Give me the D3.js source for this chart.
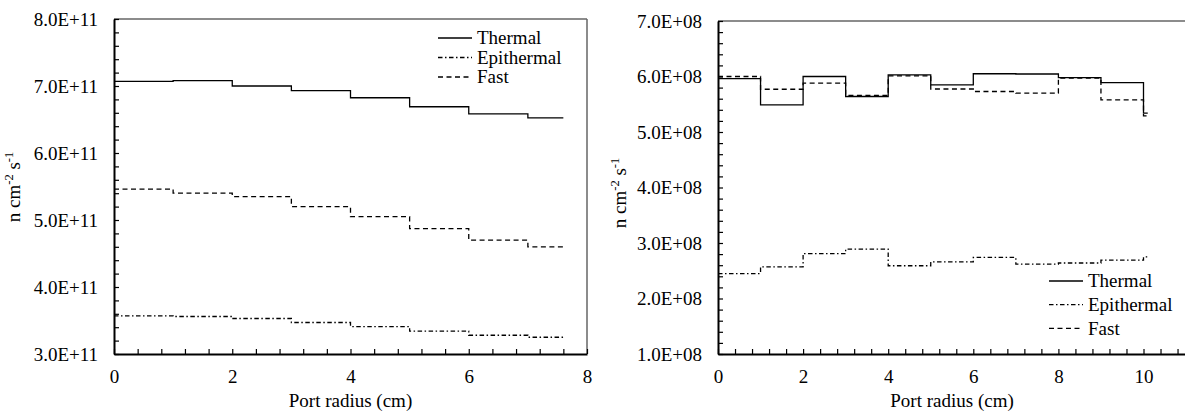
<!DOCTYPE html>
<html>
<head>
<meta charset="utf-8">
<script src="https://cdn.jsdelivr.net/npm/d3@7"></script>
<style>
  html, body { margin: 0; padding: 0; background: #fff; }
  svg { display: block; }
  text { font-family: "Liberation Serif", "Times New Roman", serif; fill: #000; }
</style>
</head>
<body>
<svg id="chart" width="1185" height="414"></svg>
<script>
// ---------- data ----------
const seriesNames = ["Thermal", "Epithermal", "Fast"];

// Left panel (step edges in cm; values per segment)
const leftRadius      = [0, 1, 2, 3, 4, 5, 6, 7, 7.6];
const leftThermal     = [7.07e11, 7.08e11, 7.00e11, 6.93e11, 6.825e11, 6.69e11, 6.585e11, 6.525e11];
const leftEpithermal  = [3.57e11, 3.56e11, 3.53e11, 3.47e11, 3.41e11, 3.34e11, 3.28e11, 3.25e11];
const leftFast        = [5.46e11, 5.40e11, 5.35e11, 5.20e11, 5.05e11, 4.87e11, 4.70e11, 4.60e11];
const leftYTicks      = [3e11, 4e11, 5e11, 6e11, 7e11, 8e11];
const leftXTicks      = [0, 2, 4, 6, 8];

// Right panel
const rightRadius     = [0, 1, 2, 3, 4, 5, 6, 7, 8, 9, 10, 10.1];
const rightThermal    = [5.96e8, 5.49e8, 6.00e8, 5.64e8, 6.03e8, 5.85e8, 6.05e8, 6.045e8, 5.98e8, 5.89e8, 5.34e8];
const rightEpithermal = [2.45e8, 2.57e8, 2.81e8, 2.89e8, 2.59e8, 2.66e8, 2.74e8, 2.62e8, 2.64e8, 2.69e8, 2.75e8];
const rightFast       = [6.00e8, 5.77e8, 5.88e8, 5.66e8, 6.01e8, 5.775e8, 5.73e8, 5.70e8, 5.97e8, 5.58e8, 5.29e8];
const rightYTicks     = [1e8, 2e8, 3e8, 4e8, 5e8, 6e8, 7e8];
const rightXTicks     = [0, 2, 4, 6, 8, 10];

const xTitle = "Port radius (cm)";

// ---------- styles ----------
const dashes = { Thermal: null, Epithermal: "4.5,2.5,1.5,2.5", Fast: "5,3.5" };
const FS = "19px";

const svg = d3.select("#chart");

function fmtE(exp) {
  return d => (d / Math.pow(10, exp)).toFixed(1) + "E+" + String(exp).padStart(2, "0");
}

function panel(cfg) {
  const x = d3.scaleLinear().domain(cfg.xDomain).range([cfg.left, cfg.right]);
  const y = d3.scaleLinear().domain(cfg.yDomain).range([cfg.bottom, cfg.top]);
  const g = svg.append("g");

  // minor tick values
  const xMinor = d3.range(cfg.xDomain[0], cfg.xDomain[1] + 1e-9, 0.4).map(v => +v.toFixed(3));
  const yStep = (cfg.yTicks[1] - cfg.yTicks[0]) / 5;
  const yMinor = d3.range(cfg.yDomain[0], cfg.yDomain[1] + yStep / 2, yStep);

  // frame (top & right) in gray
  g.append("line").attr("x1", cfg.left).attr("x2", cfg.right).attr("y1", cfg.top).attr("y2", cfg.top)
    .attr("stroke", "#666").attr("stroke-width", 1.5);
  if (cfg.rightBorder) {
    g.append("line").attr("x1", cfg.right).attr("x2", cfg.right).attr("y1", cfg.top).attr("y2", cfg.bottom)
      .attr("stroke", "#666").attr("stroke-width", 1.5);
  }

  // Y axis
  const yAxis = d3.axisLeft(y).tickValues(yMinor).tickSizeInner(-5).tickSizeOuter(0).tickPadding(16)
    .tickFormat(d => cfg.yTicks.some(t => Math.abs(t - d) < yStep / 10) ? cfg.yFmt(d) : "");
  const ya = g.append("g").attr("transform", `translate(${cfg.left},0)`).call(yAxis);
  ya.selectAll("text").style("font-size", FS).style("font-family", '"Liberation Serif", serif');
  ya.select(".domain").attr("stroke", "#000").attr("stroke-width", 2);
  ya.selectAll(".tick line").attr("stroke", "#000").attr("stroke-width", 1.2);

  // X axis
  const xAxis = d3.axisBottom(x).tickValues(xMinor).tickSizeInner(-5).tickSizeOuter(0).tickPadding(16)
    .tickFormat(d => cfg.xTicks.some(t => Math.abs(t - d) < 1e-6) ? d3.format("d")(d) : "");
  const xa = g.append("g").attr("transform", `translate(0,${cfg.bottom})`).call(xAxis);
  xa.selectAll("text").style("font-size", FS).style("font-family", '"Liberation Serif", serif');
  xa.select(".domain").attr("stroke", "#000").attr("stroke-width", 2);
  xa.selectAll(".tick line").attr("stroke", "#000").attr("stroke-width", 1.2);

  // X title
  g.append("text").attr("x", (cfg.left + cfg.right) / 2).attr("y", 407)
    .attr("text-anchor", "middle").style("font-size", FS).text(xTitle);

  // Y title: n cm^-2 s^-1
  const yt = g.append("text")
    .attr("transform", `translate(${cfg.yTitleX},${cfg.yTitleY}) rotate(-90)`)
    .attr("text-anchor", "middle").style("font-size", FS);
  yt.append("tspan").text("n cm");
  yt.append("tspan").attr("dy", -7).style("font-size", "12.5px").text("-2");
  yt.append("tspan").attr("dy", 7).text(" s");
  yt.append("tspan").attr("dy", -7).style("font-size", "12.5px").text("-1");

  // Series step lines
  const line = d3.line().x(d => x(d[0])).y(d => y(d[1])).curve(d3.curveStepAfter);
  cfg.series.forEach((vals, i) => {
    const pts = cfg.radius.map((r, k) => [r, vals[Math.min(k, vals.length - 1)]]);
    g.append("path").datum(pts).attr("d", line)
      .attr("fill", "none").attr("stroke", "#000").attr("stroke-width", 1.3)
      .attr("stroke-dasharray", dashes[seriesNames[i]]);
  });

  // Legend
  seriesNames.forEach((name, i) => {
    const ly = cfg.legendY + i * cfg.legendStep;
    g.append("line").attr("x1", cfg.legendX).attr("x2", cfg.legendX + 34).attr("y1", ly).attr("y2", ly)
      .attr("stroke", "#000").attr("stroke-width", 1.3).attr("stroke-dasharray", dashes[name]);
    g.append("text").attr("x", cfg.legendX + 39).attr("y", ly).attr("dy", "0.33em")
      .style("font-size", FS).text(name);
  });
}

panel({
  left: 114, right: 587, top: 19, bottom: 354,
  xDomain: [0, 8], yDomain: [3e11, 8e11],
  yTicks: leftYTicks, xTicks: leftXTicks, yFmt: fmtE(11),
  radius: leftRadius, series: [leftThermal, leftEpithermal, leftFast],
  rightBorder: true,
  yTitleX: 20, yTitleY: 187,
  legendX: 438, legendY: 38, legendStep: 19.5
});

panel({
  left: 718, right: 718 + 11 * 42.55, top: 21, bottom: 354,
  xDomain: [0, 11], yDomain: [1e8, 7e8],
  yTicks: rightYTicks, xTicks: rightXTicks, yFmt: fmtE(8),
  radius: rightRadius, series: [rightThermal, rightEpithermal, rightFast],
  rightBorder: false,
  yTitleX: 626, yTitleY: 193,
  legendX: 1049, legendY: 281, legendStep: 23.7
});
</script>
</body>
</html>
